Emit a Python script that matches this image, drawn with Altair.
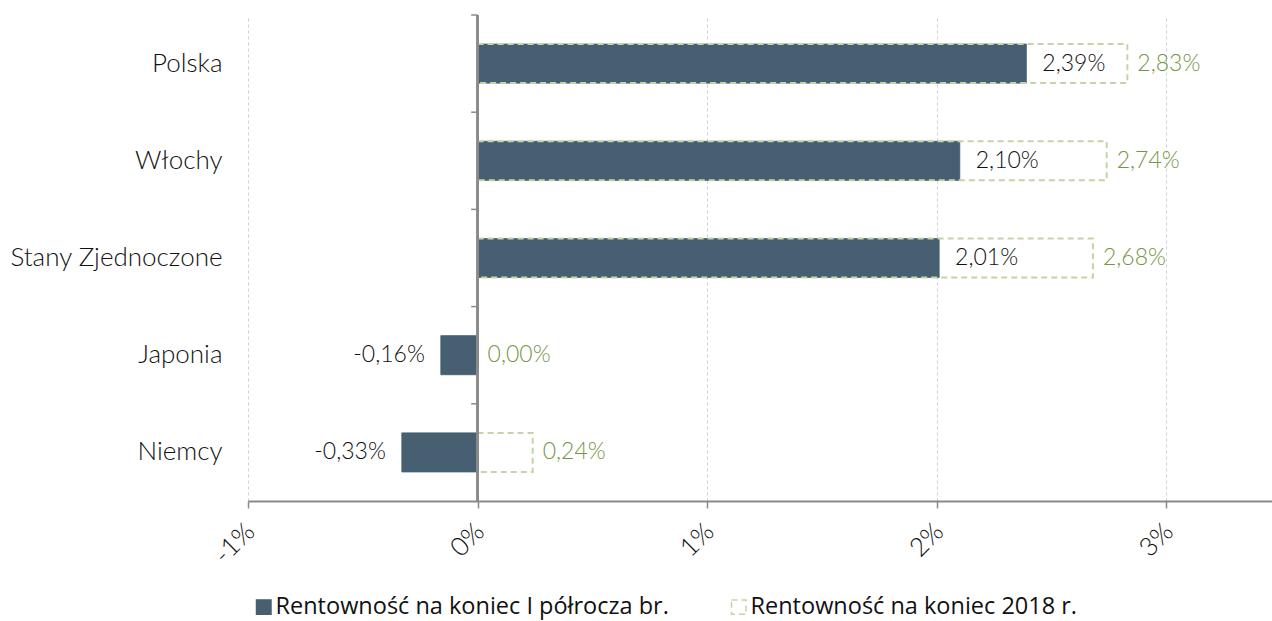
import altair as alt
import pandas as pd

countries = ["Polska", "Włochy", "Stany Zjednoczone", "Japonia", "Niemcy"]
h1_2019 = [2.39, 2.10, 2.01, -0.16, -0.33]
end_2018 = [2.83, 2.74, 2.68, 0.00, 0.24]
series_names = ["Rentowność na koniec I półrocza br.", "Rentowność na koniec 2018 r."]
x_ticks = [-1, 0, 1, 2, 3]

DARK = "#465f71"
GREEN_LINE = "#c5d4a8"
GREEN_TEXT = "#779645"
FONT = "Lato"
LEG_FONT = "Open Sans"
TXT = "#111111"


def fmt(v):
    return f"{v:.2f}".replace(".", ",") + "%"


df1 = pd.DataFrame({"country": countries, "v": h1_2019, "series": series_names[0],
                    "label": [fmt(v) for v in h1_2019]})
df2 = pd.DataFrame({"country": countries, "v": end_2018, "series": series_names[1],
                    "label": [fmt(v) for v in end_2018]})

W, H = 1024, 486
xscale = alt.Scale(domain=[-1, 3.46], nice=False, zero=False)
yscale = alt.Scale(domain=countries, paddingInner=0, paddingOuter=0)
ser_dom = series_names

x_enc = alt.X("v:Q", scale=xscale, title=None,
              axis=alt.Axis(values=x_ticks, labelExpr="datum.value + '%'", labelAngle=-45,
                            labelFontSize=26, labelColor=TXT, labelFont=FONT,
                            labelFontWeight=300, labelOffset=-7,
                            domainColor="#8a8a8a", domainWidth=2, tickColor="#8a8a8a",
                            tickSize=7, tickWidth=1.5, grid=True, gridColor="#cfcfcf",
                            gridDash=[3, 3], labelPadding=10))
y_enc = alt.Y("country:N", scale=yscale, sort=countries, title=None,
              axis=alt.Axis(domain=False, ticks=False, labelFontSize=26, labelFont=FONT,
                            labelFontWeight=300,
                            labelColor=TXT, labelPadding=26, labelLimit=400))

legend = alt.Legend(orient="none", legendX=4, legendY=580, direction="horizontal",
                    title=None, labelFontSize=23.5, labelFont=LEG_FONT, labelColor="#111",
                    symbolType="square", symbolSize=210, columnPadding=58, labelLimit=700,
                    symbolStrokeWidth=1.5, labelOffset=0)

fill_enc = alt.Fill("series:N", scale=alt.Scale(domain=ser_dom, range=[DARK, "transparent"]), legend=legend)
stroke_enc = alt.Stroke("series:N", scale=alt.Scale(domain=ser_dom, range=[DARK, GREEN_LINE]), legend=legend)
dash_enc = alt.StrokeDash("series:N", scale=alt.Scale(domain=ser_dom, range=[[1, 0], [6, 4]]), legend=legend)

base1 = alt.Chart(df1)
base2 = alt.Chart(df2)

ypos = alt.Y("country:N", scale=yscale, sort=countries)

bars = base1.mark_bar(size=39, strokeWidth=1).encode(
    x=x_enc, x2=alt.datum(0), y=y_enc, fill=fill_enc, stroke=stroke_enc, strokeDash=dash_enc)
boxes = base2.mark_bar(size=39, strokeWidth=2).encode(
    x=alt.X("v:Q", scale=xscale), x2=alt.datum(0), y=ypos,
    fill=fill_enc, stroke=stroke_enc, strokeDash=dash_enc)

lab_pos = base1.transform_filter("datum.v >= 0").mark_text(
    align="left", dx=16, fontSize=23, font=FONT, fontWeight=300, color=TXT).encode(
    x=alt.X("v:Q", scale=xscale), y=ypos, text="label:N")
lab_neg = base1.transform_filter("datum.v < 0").mark_text(
    align="right", dx=-16, fontSize=23, font=FONT, fontWeight=300, color=TXT).encode(
    x=alt.X("v:Q", scale=xscale), y=ypos, text="label:N")
lab_green = base2.mark_text(align="left", dx=10, fontSize=23, font=FONT, fontWeight=300,
                            color=GREEN_TEXT).encode(
    x=alt.X("v:Q", scale=xscale), y=ypos, text="label:N")

zero_axis = base1.mark_rule(color="#8a8a8a", strokeWidth=2).encode(
    x=alt.datum(0), y=alt.value(0), y2=alt.value(H))
ticks = base1.mark_rule(color="#8a8a8a", strokeWidth=1.5).encode(
    x=alt.datum(0), x2=alt.datum(-0.028),
    y=alt.Y("country:N", scale=yscale, sort=countries, bandPosition=0))

chart = alt.layer(bars, boxes, zero_axis, ticks, lab_pos, lab_neg, lab_green).properties(
    width=W, height=H,
    background="white",
    autosize=alt.AutoSizeParams(type="none"),
    padding={"left": 248, "top": 15, "right": 0, "bottom": 120},
).configure_view(strokeWidth=0, stroke="transparent")

chart.save("out.html", embed_options={"renderer": "svg", "actions": False})
